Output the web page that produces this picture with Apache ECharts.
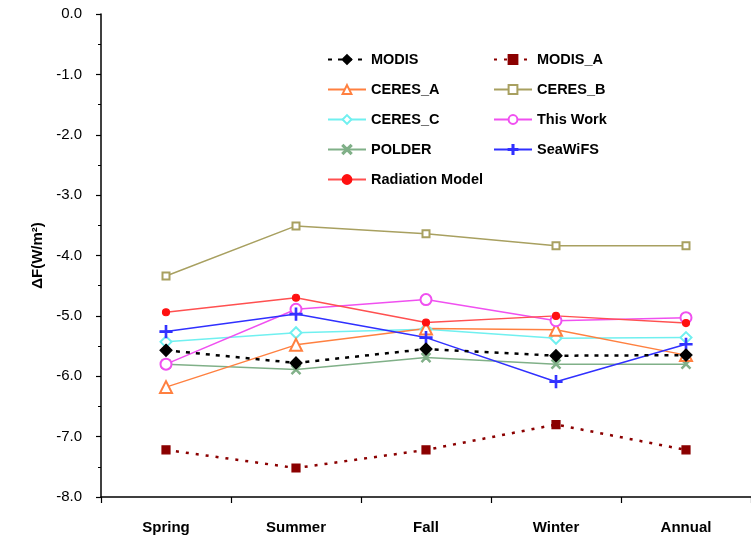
<!DOCTYPE html>
<html>
<head>
<meta charset="utf-8">
<script src="https://cdn.jsdelivr.net/npm/echarts@6/dist/echarts.min.js"></script>
<style>
  html, body { margin: 0; padding: 0; background: #fff; }
  #chart { width: 751px; height: 544px; }
</style>
</head>
<body>
<div id="chart"></div>
<script>
// Seasonal forcing estimates, W/m^2
const seasons = ['Spring', 'Summer', 'Fall', 'Winter', 'Annual'];
const modis      = [-5.57, -5.78, -5.55, -5.66, -5.65];
const modisA     = [-7.22, -7.52, -7.22, -6.80, -7.22];
const ceresA     = [-6.18, -5.48, -5.21, -5.23, -5.65];
const ceresB     = [-4.34, -3.51, -3.64, -3.84, -3.84];
const ceresC     = [-5.43, -5.28, -5.22, -5.37, -5.36];
const thisWork   = [-5.80, -4.89, -4.73, -5.08, -5.03];
const polder     = [-5.80, -5.89, -5.69, -5.80, -5.80];
const seawifs    = [-5.26, -4.97, -5.36, -6.09, -5.47];
const radiation  = [-4.94, -4.70, -5.11, -5.00, -5.12];

const FONT = '"Liberation Sans", Arial, sans-serif';
const CROSS = 'path://M0,1L1,0L5,4L9,0L10,1L6,5L10,9L9,10L5,6L1,10L0,9L4,5Z';
const PLUS = 'path://M4.4,0H5.6V4.4H10V5.6H5.6V10H4.4V5.6H0V4.4H4.4Z';

function series(name, data, color, symbol, size, opts) {
  opts = opts || {};
  return {
    name: name,
    type: 'line',
    data: data,
    symbol: symbol,
    symbolSize: size,
    color: color,
    lineStyle: Object.assign({ color: opts.lineColor || color, width: 1.5, type: 'solid' }, opts.line || {}),
    itemStyle: Object.assign({ color: color, borderColor: color, borderWidth: 1.2 }, opts.item || {}),
    emphasis: { disabled: true },
    animation: false
  };
}

const chart = echarts.init(document.getElementById('chart'), null, { renderer: 'canvas' });

const legendText = { fontFamily: FONT, fontSize: 14.5, fontWeight: 'bold', color: '#000' };
const legendBase = {
  orient: 'vertical', top: 47,
  itemWidth: 38, itemHeight: 11, itemGap: 15,
  textStyle: legendText
};

chart.setOption({
  backgroundColor: '#fff',
  animation: false,
  grid: { left: 101, top: 14, right: -12, bottom: 47 },
  legend: [
    Object.assign({ left: 322, data: ['MODIS', 'CERES_A', 'CERES_C', 'POLDER', 'Radiation Model'] }, legendBase),
    Object.assign({ left: 488, data: ['MODIS_A', 'CERES_B', 'This Work', 'SeaWiFS'] }, legendBase)
  ],
  xAxis: {
    type: 'category',
    data: seasons,
    boundaryGap: true,
    axisLine: { onZero: false, lineStyle: { color: '#000', width: 1.5 } },
    axisTick: { show: true, inside: false, length: 6, lineStyle: { color: '#000', width: 1.2 } },
    axisLabel: { margin: 23, fontFamily: FONT, fontSize: 15, fontWeight: 'bold', color: '#000' },
    splitLine: { show: false }
  },
  yAxis: {
    type: 'value',
    min: -8, max: 0, interval: 1,
    name: 'ΔF(W/m²)',
    nameLocation: 'middle',
    nameGap: 50,
    nameRotate: 90,
    nameTextStyle: { fontFamily: FONT, fontSize: 15, fontWeight: 'bold', color: '#000' },
    axisLine: { show: true, lineStyle: { color: '#000', width: 1.5 } },
    axisTick: { show: true, inside: false, length: 5, lineStyle: { color: '#000', width: 1.2 } },
    minorTick: { show: true, splitNumber: 2, length: 3, lineStyle: { color: '#000', width: 1 } },
    axisLabel: {
      margin: 19, fontFamily: FONT, fontSize: 15, color: '#000',
      formatter: v => v.toFixed(1)
    },
    splitLine: { show: false }
  },
  series: [
    series('CERES_B', ceresB, '#A8A060', 'emptyRect', 7),
    series('CERES_C', ceresC, '#70F0F0', 'emptyDiamond', 11),
    series('POLDER', polder, '#80B088', CROSS, 9),
    series('CERES_A', ceresA, '#FF8040', 'emptyTriangle', 12),
    series('This Work', thisWork, '#F050F0', 'emptyCircle', 11),
    series('Radiation Model', radiation, '#FF1010', 'circle', 7, { lineColor: '#FF5050' }),
    series('SeaWiFS', seawifs, '#3030FF', PLUS, 12),
    series('MODIS_A', modisA, '#8B0000', 'rect', 8, { line: { width: 2.5, type: [3, 7] } }),
    series('MODIS', modis, '#000000', 'diamond', 12, { line: { width: 2.5, type: [4, 6] } })
  ]
});
</script>
</body>
</html>
